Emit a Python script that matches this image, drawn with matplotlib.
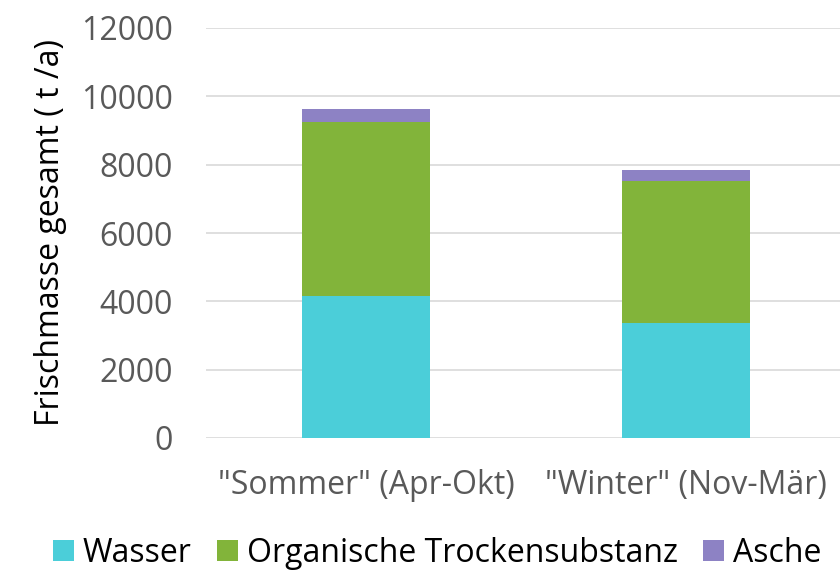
import matplotlib
matplotlib.use("Agg")
import matplotlib.pyplot as plt
import numpy as np

categories = ['"Sommer" (Apr-Okt)', '"Winter" (Nov-Mär)']
wasser = [4160, 3380]
organisch = [5100, 4150]
asche = [380, 320]
series_names = ["Wasser", "Organische Trockensubstanz", "Asche"]
colors = ["#4BCED9", "#82B43A", "#8D82C4"]
yticks = [0, 2000, 4000, 6000, 8000, 10000, 12000]

plt.rcParams['font.family'] = ['Open Sans', 'DejaVu Sans']

fig = plt.figure(figsize=(8.4, 5.7), dpi=100)
ax = fig.add_axes([206/840, 1-438/570, 640/840, (438-28)/570])

x = np.arange(len(categories))
w = 0.4
b1 = ax.bar(x, wasser, w, color=colors[0], label=series_names[0], zorder=3)
b2 = ax.bar(x, organisch, w, bottom=wasser, color=colors[1], label=series_names[1], zorder=3)
bottom2 = np.array(wasser) + np.array(organisch)
b3 = ax.bar(x, asche, w, bottom=bottom2, color=colors[2], label=series_names[2], zorder=3)

ax.set_xlim(-0.5, 1.5)
ax.set_ylim(0, 12000)
ax.set_yticks(yticks)
ax.set_yticklabels([str(t) for t in yticks], fontsize=23, color="#595959")
ax.set_xticks(x)
ax.set_xticklabels(categories, fontsize=23, color="#595959")
ax.tick_params(axis='y', length=0, pad=24)
ax.tick_params(axis='x', length=0, pad=22)
ax.yaxis.grid(True, color="#D9D9D9", linewidth=1.2, zorder=0)
for s in ax.spines.values():
    s.set_visible(False)
ax.set_ylabel("Frischmasse gesamt ( t /a)", fontsize=23, color="black", labelpad=10)

leg = fig.legend(handles=[b1, b2, b3], loc="center", bbox_to_anchor=(437/840, 1-553/570),
                 ncol=3, frameon=False, fontsize=23, handlelength=0.66, handleheight=0.66,
                 handletextpad=0.28, columnspacing=0.78, borderpad=0, borderaxespad=0)

fig.savefig("out.png", dpi=100)
